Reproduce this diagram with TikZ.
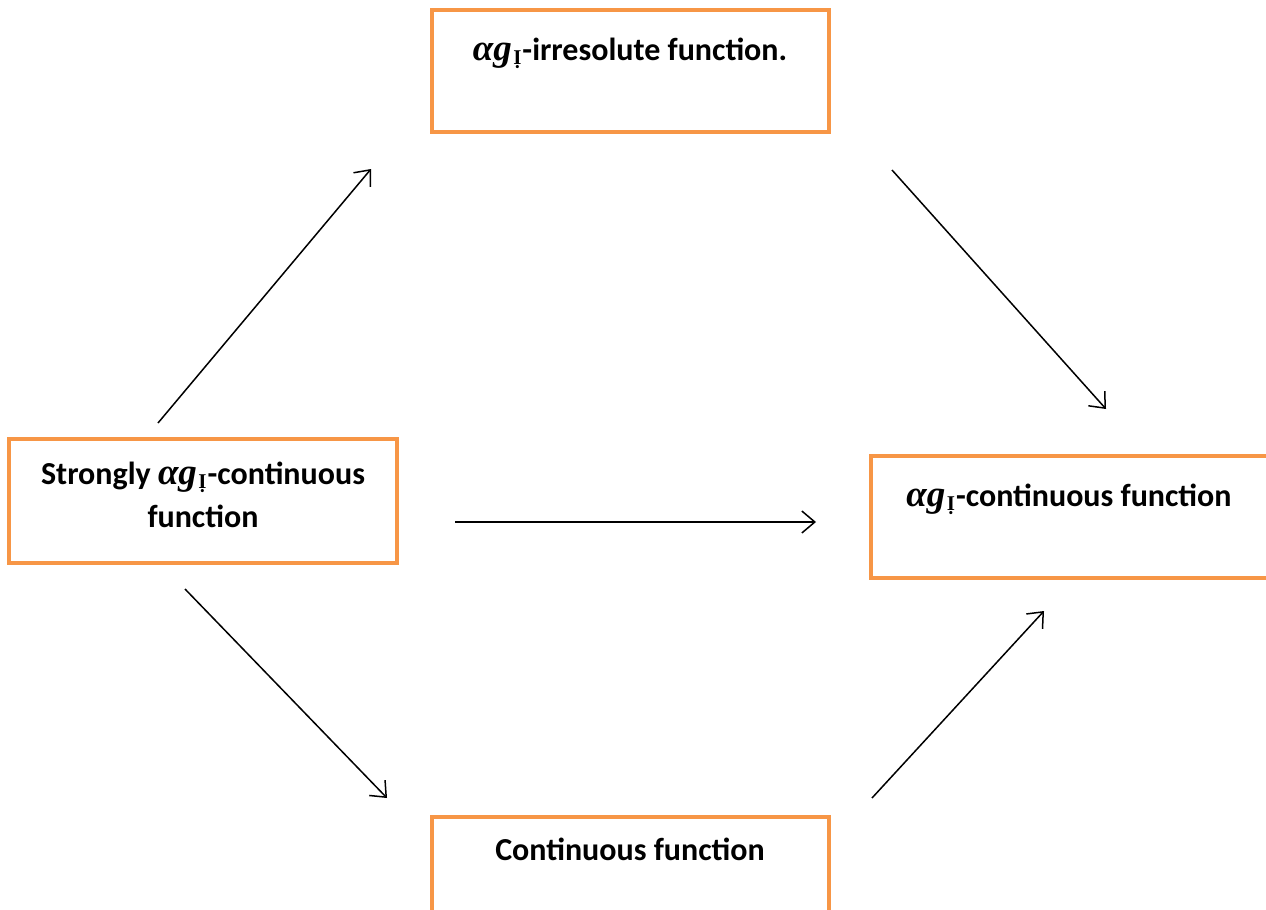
\documentclass[tikz,border=0pt]{standalone}
\usepackage{fontspec}
\setmainfont{Carlito}
\newfontfamily\serifmath{Liberation Serif}
\usetikzlibrary{arrows.meta}
\definecolor{boxorange}{HTML}{F79646}
\newcommand{\agI}{{\serifmath\fontsize{37}{37}\selectfont\bfseries\itshape αg}\kern1.5pt{\raisebox{-0.3ex}{\serifmath\fontsize{21}{21}\selectfont Ị}}\kern1pt}
\tikzset{
  fbox/.style={draw=boxorange, line width=4.5pt, fill=white},
  lbl/.style={font=\fontsize{32}{43}\selectfont\bfseries, align=center, inner sep=0pt, anchor=base},
  arr/.style={-{Straight Barb[length=13pt,width=22pt,line width=1.5pt]}, line width=1.5pt, black},
}
\begin{document}
\begin{tikzpicture}[x=1pt,y=-1pt]
\useasboundingbox (0,0) rectangle (1266,910);
% boxes
\draw[fbox] (432,10) rectangle (829,132);
\node[lbl] (top) at (630,60) {\agI-irresolute function.};
\draw[fbox] (9,439) rectangle (397,563);
\node[lbl] (left) at (203,527) {Strongly \agI-continuous\\function};
\draw[fbox] (871,456) rectangle (1268,578);
\node[lbl] (right) at (1069,506) {\agI-continuous function};
\draw[fbox] (432,817) rectangle (829,930);
\node[lbl] (bottom) at (630,860) {Continuous function};
% arrow end points
\coordinate (a1s) at (158,423); \coordinate (a1e) at (371,169);
\coordinate (a2s) at (892,170); \coordinate (a2e) at (1106,409);
\coordinate (a3s) at (455,522); \coordinate (a3e) at (816,522);
\coordinate (a4s) at (185,589); \coordinate (a4e) at (387,798);
\coordinate (a5s) at (872,798); \coordinate (a5e) at (1044,611);
\draw[arr] (a1s) -- (a1e);
\draw[arr] (a2s) -- (a2e);
\draw[arr] (a3s) -- (a3e);
\draw[arr] (a4s) -- (a4e);
\draw[arr] (a5s) -- (a5e);
\end{tikzpicture}
\end{document}
